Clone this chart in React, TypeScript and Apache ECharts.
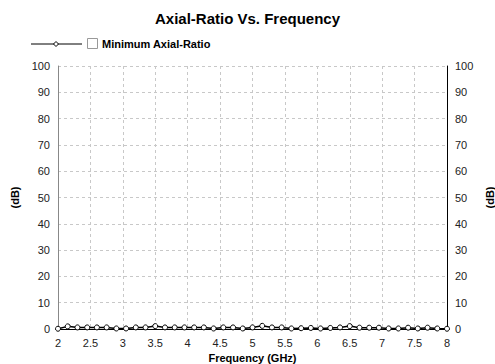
import React, { useEffect, useRef } from "react";
import * as echarts from "echarts";

const frequencies = [
  2.0, 2.15, 2.3, 2.45, 2.6, 2.75, 2.9, 3.05, 3.2, 3.35, 3.5, 3.65, 3.8, 3.95, 4.1, 4.25, 4.4, 4.55, 4.7, 4.85,
  5.0, 5.15, 5.3, 5.45, 5.6, 5.75, 5.9, 6.05, 6.2, 6.35, 6.5, 6.65, 6.8, 6.95, 7.1, 7.25, 7.4, 7.55, 7.7, 7.85, 8.0,
];
const axialRatio = [
  0.1, 1.0, 0.6, 0.6, 0.6, 0.6, 0.2, 0.2, 0.6, 0.6, 1.1, 0.6, 0.6, 0.6, 0.6, 0.6, 0.2, 0.6, 0.6, 0.2,
  0.6, 1.2, 0.6, 0.6, 0.2, 0.3, 0.4, 0.2, 0.4, 0.6, 1.1, 0.5, 0.5, 0.5, 0.2, 0.2, 0.5, 0.2, 0.5, 0.2, 0.1,
];
const seriesName = "Minimum Axial-Ratio";
const titleText = "Axial-Ratio Vs. Frequency";

export default function App() {
  const ref = useRef<HTMLDivElement>(null);
  useEffect(() => {
    if (!ref.current) return;
    const chart = echarts.init(ref.current, null, { renderer: "svg" });
    const font = "Arial, 'Liberation Sans', sans-serif";
    const labelStyle = { fontFamily: font, fontSize: 11, color: "#222222", margin: 8 };
    const nameStyle = { fontFamily: font, fontSize: 11, fontWeight: "bold" as const, color: "#000000" };
    chart.setOption({
      animation: false,
      backgroundColor: "#fff",
      title: {
        text: titleText,
        left: "center",
        top: 6,
        textStyle: { fontFamily: font, fontSize: 15, fontWeight: "bold", color: "#000" },
      },
      grid: { left: 58, right: 48, top: 66, bottom: 35, outerBoundsMode: "none", containLabel: false },
      xAxis: [
        {
          type: "value",
          min: 2,
          max: 8,
          interval: 0.5,
          position: "bottom",
          name: "Frequency (GHz)",
          nameLocation: "middle",
          nameGap: 18,
          nameTextStyle: nameStyle,
          axisLine: { show: true, lineStyle: { color: "#000", width: 1 } },
          axisTick: { show: false },
          axisLabel: { ...labelStyle, margin: 8 },
          splitLine: { show: true, lineStyle: { color: "#c8c8c8", type: [3, 3] } },
        },
        {
          type: "value",
          min: 2,
          max: 8,
          interval: 0.5,
          position: "top",
          axisLine: { show: true, lineStyle: { color: "#000", width: 1 } },
          axisTick: { show: false },
          axisLabel: { show: false },
          splitLine: { show: false },
        },
      ],
      yAxis: [
        {
          type: "value",
          min: 0,
          max: 100,
          interval: 10,
          position: "left",
          name: "(dB)",
          nameLocation: "middle",
          nameGap: 34,
          nameTextStyle: nameStyle,
          axisTick: { show: false },
          axisLine: { show: true, lineStyle: { color: "#888", width: 1 } },
          axisLabel: { ...labelStyle },
          splitLine: { show: true, lineStyle: { color: "#c8c8c8", type: [3, 3] } },
        },
        {
          type: "value",
          min: 0,
          max: 100,
          interval: 10,
          position: "right",
          name: "(dB)",
          nameLocation: "middle",
          nameGap: 28,
          nameRotate: 90,
          nameTextStyle: nameStyle,
          axisTick: { show: false },
          axisLine: { show: true, lineStyle: { color: "#000", width: 1 } },
          axisLabel: { ...labelStyle },
          splitLine: { show: false },
        },
      ],
      graphic: [
        { type: "line", shape: { x1: 31, y1: 44, x2: 82, y2: 44 }, style: { stroke: "#000", lineWidth: 1 } },
        {
          type: "polygon",
          shape: { points: [[56, 41.5], [58.5, 44], [56, 46.5], [53.5, 44]] },
          style: { fill: "#fff", stroke: "#000", lineWidth: 1 },
        },
        { type: "rect", shape: { x: 87.5, y: 38.5, width: 10, height: 10 }, style: { fill: "#fff", stroke: "#999", lineWidth: 1 } },
        {
          type: "text",
          x: 102,
          y: 44,
          style: { text: seriesName, fontFamily: font, fontSize: 11, fontWeight: "bold", fill: "#000", verticalAlign: "middle" },
        },
      ],
      series: [
        {
          name: seriesName,
          type: "line",
          data: frequencies.map((f, i) => [f, axialRatio[i]]),
          symbol: "circle",
          symbolSize: 5,
          itemStyle: { color: "#fff", borderColor: "#000", borderWidth: 1 },
          lineStyle: { color: "#000", width: 1.5 },
          clip: false,
        },
      ],
    });
    return () => chart.dispose();
  }, []);
  return <div ref={ref} style={{ position: "absolute", left: 0, top: 0, width: 495, height: 364 }} />;
}
